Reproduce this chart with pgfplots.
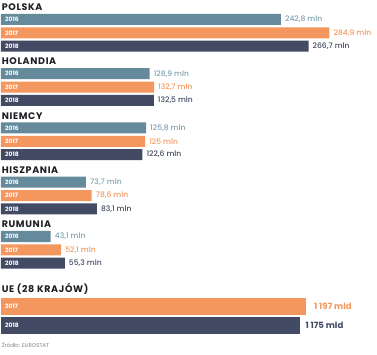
\documentclass[border=0pt]{standalone}
\usepackage{pgfplots}
\pgfplotsset{compat=1.18}
\usepackage{fontspec}
\setmainfont{Poppins}
\newfontfamily\titlefont[LetterSpace=7]{Poppins}
\newfontfamily\medfont{Poppins Medium}
\definecolor{c16}{HTML}{658A9B}
\definecolor{c17}{HTML}{F4975F}
\definecolor{c18}{HTML}{434A64}
\definecolor{l16}{HTML}{7FA0B2}
\definecolor{tit}{HTML}{1E1E24}
\tikzset{ttl/.style={anchor=west, inner sep=0pt, text=tit, font=\titlefont\fontsize{9.5}{11}\selectfont\bfseries}}
\begin{document}
\begin{tikzpicture}
\useasboundingbox (0,0) rectangle (377pt,355pt);
\pgfplotsset{
  base/.style={hide axis, clip=false, y dir=reverse, ymin=0, ymax=355, y=1pt,
    anchor=south west, at={(0,0)}, scale only axis},
  val/.style={point meta=explicit symbolic, nodes near coords={\pgfplotspointmeta},
    every node near coord/.append style={anchor=west, inner sep=0pt, xshift=4pt,
      text=#1, font=\medfont\fontsize{7.6}{9}\selectfont}},
  yr/.style={draw=none, mark=none, only marks, point meta=explicit symbolic,
    nodes near coords={\pgfplotspointmeta},
    every node near coord/.append style={anchor=west, inner sep=0pt, xshift=4pt,
      text=white, font=\fontsize{6}{7}\selectfont\bfseries}},
}
% countries
\begin{axis}[base, x=1.153pt, xmin=-0.867, xmax=326.1]
\addplot[xbar, bar shift=0pt, bar width=11pt, fill=c16, draw=none, val=l16] coordinates {
 (242.8,19.5)[242,8 mln] (128.9,73.75)[128,9 mln] (125.8,128)[125,8 mln]
 (73.7,182.25)[73,7 mln] (43.1,236.5)[43,1 mln]};
\addplot[xbar, bar shift=0pt, bar width=11pt, fill=c17, draw=none, val=c17] coordinates {
 (284.9,32.8)[284,9 mln] (132.7,87.05)[132,7 mln] (125.0,141.3)[125 mln]
 (78.6,195.55)[78,6 mln] (52.1,249.8)[52,1 mln]};
\addplot[xbar, bar shift=0pt, bar width=11pt, fill=c18, draw=none, val=c18] coordinates {
 (266.7,46.1)[266,7 mln] (132.5,100.35)[132,5 mln] (122.6,154.6)[122,6 mln]
 (83.1,208.85)[83,1 mln] (55.3,263.1)[55,3 mln]};
\addplot[yr] coordinates {
 (0,19.5)[2016] (0,32.8)[2017] (0,46.1)[2018]
 (0,73.75)[2016] (0,87.05)[2017] (0,100.35)[2018]
 (0,128)[2016] (0,141.3)[2017] (0,154.6)[2018]
 (0,182.25)[2016] (0,195.55)[2017] (0,208.85)[2018]
 (0,236.5)[2016] (0,249.8)[2017] (0,263.1)[2018]};
\node[ttl] at (axis cs:0.5,7.5) {POLSKA};
\node[ttl] at (axis cs:0.5,61.5) {HOLANDIA};
\node[ttl] at (axis cs:0.5,116) {NIEMCY};
\node[ttl] at (axis cs:0.5,170.5) {HISZPANIA};
\node[ttl] at (axis cs:0.5,224.5) {RUMUNIA};
\node[ttl] at (axis cs:0.5,289) {UE (28 KRAJÓW)};
\node[anchor=west, inner sep=0pt, text=gray, font=\fontsize{5.5}{6.5}\selectfont] at (axis cs:0.5,345) {Źródło: EUROSTAT};
\end{axis}
% EU
\begin{axis}[base, x=0.2548pt, xmin=-3.92, xmax=1475.7]
\addplot[xbar, bar shift=0pt, bar width=17pt, fill=c17, draw=none, val=c17,
  every node near coord/.append style={font=\fontsize{8.6}{10}\selectfont\bfseries, xshift=4pt}] coordinates {(1197,306.5)[1 197 mld]};
\addplot[xbar, bar shift=0pt, bar width=17pt, fill=c18, draw=none, val=c18,
  every node near coord/.append style={font=\fontsize{8.6}{10}\selectfont\bfseries, xshift=1pt}] coordinates {(1175,325.5)[1 175 mld]};
\addplot[yr] coordinates {(0,306.5)[2017] (0,325.5)[2018]};
\end{axis}
\end{tikzpicture}
\end{document}
